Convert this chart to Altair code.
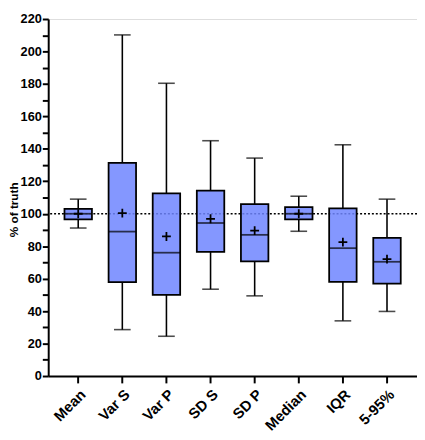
import altair as alt
import pandas as pd

cats = ["Mean", "Var S", "Var P", "SD S", "SD P", "Median", "IQR", "5-95%"]
mins = [91.2, 28.6, 24.5, 53.5, 49.4, 89.2, 34.0, 39.8]
q1s = [96.6, 57.8, 50.0, 76.5, 70.6, 96.5, 58.0, 56.9]
meds = [100.0, 89.0, 76.0, 94.3, 87.0, 100.0, 78.8, 70.4]
q3s = [103.0, 131.4, 112.5, 114.3, 105.9, 104.1, 103.3, 85.1]
maxs = [109.0, 210.2, 180.4, 145.0, 134.3, 110.8, 142.5, 109.0]
means = [100.0, 100.4, 86.0, 96.9, 89.6, 100.0, 82.5, 72.0]
truth = [100]

df = pd.DataFrame({"cat": cats, "lo": mins, "q1": q1s, "med": meds,
                   "q3": q3s, "hi": maxs, "mean": means})
ref = pd.DataFrame({"v": truth})

FONT = "Liberation Sans"

xenc = alt.X("cat:N", sort=cats, title=None,
             scale=alt.Scale(paddingInner=0, paddingOuter=0.18),
             axis=alt.Axis(labelAngle=-45, labelAlign="right", labelBaseline="top",
                           labelFontSize=15, labelFontWeight="bold", labelFont=FONT,
                           labelColor="black", tickColor="black", tickWidth=2,
                           tickSize=7, domainColor="black", domainWidth=2,
                           labelPadding=4, labelOverlap=False))
yscale = alt.Scale(domain=[0, 220], nice=False)
yaxis = alt.Axis(values=list(range(0, 230, 10)), tickCount=30,
                 labelExpr="datum.value % 20 == 0 ? datum.label : ''",
                 labelOverlap=False,
                 labelFontSize=13, labelFontWeight="bold", labelFont=FONT,
                 labelColor="black", tickColor="black", tickWidth=2, tickSize=6,
                 labelPadding=1,
                 domainColor="black", domainWidth=2, grid=False,
                 title="% of truth", titleFont=FONT, titleFontSize=12,
                 titleFontWeight="bold", titleColor="black",
                 titleX=-28, titleY=194, titleAngle=-90, titleBaseline="bottom")

base = alt.Chart(df)

whisk_lo = base.mark_rule(color="black", strokeWidth=1.6).encode(
    x=xenc, y=alt.Y("lo:Q", scale=yscale, axis=yaxis), y2="q1:Q")
whisk_hi = base.mark_rule(color="black", strokeWidth=1.6).encode(
    x=alt.X("cat:N", sort=cats), y="q3:Q", y2="hi:Q")
cap_lo = base.mark_tick(color="black", size=17, thickness=1.6).encode(
    x=alt.X("cat:N", sort=cats), y="lo:Q")
cap_hi = base.mark_tick(color="black", size=17, thickness=1.6).encode(
    x=alt.X("cat:N", sort=cats), y="hi:Q")
refline = alt.Chart(ref).mark_rule(color="black", strokeWidth=1.5,
                                   strokeDash=[2, 2]).encode(y="v:Q")
boxes = base.mark_bar(size=28, fill="#6F85FF", fillOpacity=0.85,
                      stroke="black", strokeWidth=1.8).encode(
    x=alt.X("cat:N", sort=cats), y="q1:Q", y2="q3:Q")
medians = base.mark_tick(color="black", size=28, thickness=1.8).encode(
    x=alt.X("cat:N", sort=cats), y="med:Q")
plus = base.mark_point(shape="M-1,0H1M0,-1V1", size=81, filled=False,
                       stroke="black", strokeWidth=1.8, opacity=1).encode(
    x=alt.X("cat:N", sort=cats), y="mean:Q")

chart = alt.layer(whisk_lo, whisk_hi, cap_lo, cap_hi, refline, boxes, medians, plus).properties(
    width=376, height=364,
    autosize=alt.AutoSizeParams(type="none"),
    padding={"left": 41, "top": 7, "right": 0, "bottom": 61},
).configure_view(stroke=None).configure(background="white")

chart.save("out.html", embed_options={"renderer": "svg", "actions": False})
